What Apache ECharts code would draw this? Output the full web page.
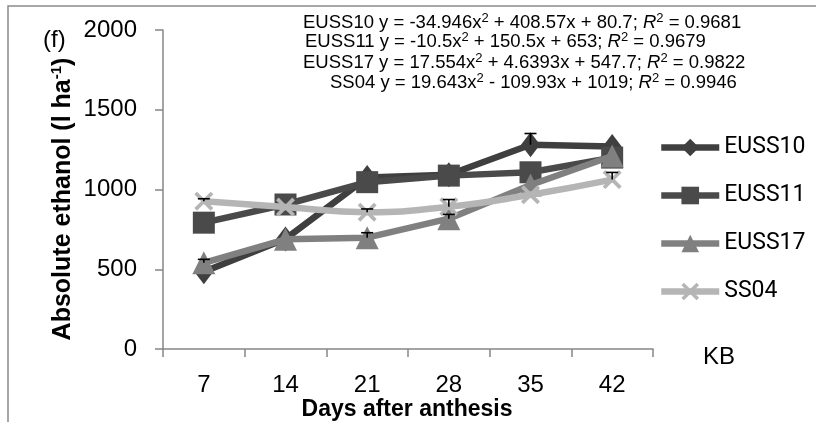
<!DOCTYPE html>
<html>
<head>
<meta charset="utf-8">
<script src="https://cdn.jsdelivr.net/npm/echarts@6/dist/echarts.min.js"></script>
<style>
  html, body { margin: 0; padding: 0; background: #fff; }
  #main { width: 816px; height: 422px; }
</style>
</head>
<body>
<div id="main"></div>
<script>
// days after anthesis
var days = ['7', '14', '21', '28', '35', '42'];
var yTicks = [0, 500, 1000, 1500, 2000];

// absolute ethanol (l/ha)
var euss10 = [485, 690, 1075, 1092, 1281, 1270];
var euss11 = [792, 906, 1046, 1087, 1108, 1200];
var euss17 = [540, 688, 698, 817, 1028, 1210];
var ss04 = [927, 890, 858, 892, 967, 1062];

// plus error bars (0 = not visible)
var err10 = [0, 0, 0, 0, 70, 0];
var err11 = [0, 0, 0, 0, 0, 0];
var err17 = [22, 0, 31, 27, 0, 0];
var errSS = [15, 0, 20, 45, 0, 45];

var names = ['EUSS10', 'EUSS11', 'EUSS17', 'SS04'];
var colors = ['#3f3f3f', '#4a4a4a', '#808080', '#b5b5b5'];

var xPath = 'path://M0,1.4L1.4,0L5,3.6L8.6,0L10,1.4L6.4,5L10,8.6L8.6,10L5,6.4L1.4,10L0,8.6L3.6,5Z';

var myChart = echarts.init(document.getElementById('main'));

function lineSeries(i, data, symbol, size, smooth) {
    return {
        name: names[i],
        type: 'line',
        data: data,
        symbol: symbol,
        symbolSize: size,
        smooth: smooth,
        lineStyle: { color: colors[i], width: 6.5 },
        itemStyle: { color: colors[i] },
        z: 2 + i * 0.1
    };
}

function errSeries(vals, errs) {
    var d = [];
    for (var k = 0; k < vals.length; k++) {
        if (errs[k] > 0) d.push([k, vals[k], errs[k]]);
    }
    return {
        type: 'custom',
        data: d,
        z: 5,
        silent: true,
        renderItem: function (params, api) {
            var p0 = api.coord([api.value(0), api.value(1)]);
            var p1 = api.coord([api.value(0), api.value(1) + api.value(2)]);
            var st = { stroke: '#000', lineWidth: 1.6 };
            return {
                type: 'group',
                children: [
                    { type: 'line', shape: { x1: p0[0], y1: p0[1], x2: p1[0], y2: p1[1] }, style: st },
                    { type: 'line', shape: { x1: p1[0] - 6, y1: p1[1], x2: p1[0] + 6, y2: p1[1] }, style: st }
                ]
            };
        }
    };
}

function eq(name, a, b, r) {
    return '{t|' + name + ' y = ' + a + 'x}{s|2}{t| ' + b + '; }{i|R}{s|2}{t| = ' + r + '}';
}
var eqRich = {
    t: { fontFamily: 'Liberation Sans', fontSize: 18.5, color: '#000' },
    i: { fontFamily: 'Liberation Sans', fontSize: 18.5, fontStyle: 'italic', color: '#000' },
    s: { fontFamily: 'Liberation Sans', fontSize: 13, color: '#000', padding: [0, 0, 9, 0] }
};
function eqText(x, y, str) {
    return { type: 'text', left: x, top: y, style: { text: str, rich: eqRich } };
}

var option = {
    animation: false,
    backgroundColor: '#fff',
    grid: { left: 163, right: 163, top: 30, bottom: 73 },
    legend: {
        orient: 'vertical',
        left: 653,
        top: 131,
        itemWidth: 58,
        itemHeight: 22,
        itemGap: 25,
        data: names,
        lineStyle: { width: 6.5 },
        textStyle: { fontFamily: 'Roboto', fontSize: 23, color: '#000' }
    },
    xAxis: {
        type: 'category',
        data: days,
        boundaryGap: true,
        axisLine: { lineStyle: { color: '#868686', width: 1.5 } },
        axisTick: { show: true, length: 8, interval: 0, lineStyle: { color: '#868686', width: 1.5 } },
        axisLabel: { margin: 24, interval: 0, fontFamily: 'Liberation Sans', fontSize: 24, color: '#000' },
        splitLine: { show: false }
    },
    yAxis: {
        type: 'value',
        min: yTicks[0],
        max: yTicks[yTicks.length - 1],
        interval: 500,
        axisLine: { show: true, lineStyle: { color: '#868686', width: 1.5 } },
        axisTick: { show: true, length: 8, lineStyle: { color: '#868686', width: 1.5 } },
        axisLabel: {
            margin: 26, fontFamily: 'Liberation Sans', fontSize: 24, color: '#000',
            formatter: function (v) { return String(v); }
        },
        splitLine: { show: false }
    },
    graphic: [
        { type: 'rect', shape: { x: 8, y: 6, width: 1000, height: 600 }, style: { fill: 'none', stroke: '#8a8a8a', lineWidth: 1.5 }, silent: true },
        { type: 'text', left: 43, top: 28, style: { text: '(f)', fontFamily: 'Liberation Sans', fontSize: 24, fill: '#000' } },
        {
            type: 'text', x: 63, y: 199, rotation: Math.PI / 2,
            style: {
                text: '{b|Absolute ethanol (l ha}{u|-1}{b|)}',
                align: 'center', verticalAlign: 'middle',
                rich: {
                    b: { fontFamily: 'Liberation Sans', fontWeight: 'bold', fontSize: 25, color: '#000' },
                    u: { fontFamily: 'Liberation Sans', fontWeight: 'bold', fontSize: 15, color: '#000', padding: [0, 0, 12, 0] }
                }
            }
        },
        { type: 'text', x: 407, y: 410, style: { text: 'Days after anthesis', align: 'center', verticalAlign: 'middle', fontFamily: 'Liberation Sans', fontWeight: 'bold', fontSize: 23, fill: '#000' } },
        { type: 'text', x: 703, y: 357, style: { text: 'KB', verticalAlign: 'middle', fontFamily: 'Liberation Sans', fontSize: 24, fill: '#000' } },
        eqText(303, 12, eq('EUSS10', '-34.946', '+ 408.57x + 80.7', '0.9681')),
        eqText(305, 31, eq('EUSS11', '-10.5', '+ 150.5x + 653', '0.9679')),
        eqText(303, 52, eq('EUSS17', '17.554', '+ 4.6393x + 547.7', '0.9822')),
        eqText(330, 72, eq('SS04', '19.643', '- 109.93x + 1019', '0.9946'))
    ],
    series: [
        lineSeries(0, euss10, 'diamond', [19, 25], false),
        lineSeries(1, euss11, 'rect', 22, false),
        lineSeries(2, euss17, 'triangle', 23, false),
        lineSeries(3, ss04, xPath, 19, true),
        errSeries(euss10, err10),
        errSeries(euss11, err11),
        errSeries(euss17, err17),
        errSeries(ss04, errSS)
    ]
};

myChart.setOption(option);
</script>
</body>
</html>
